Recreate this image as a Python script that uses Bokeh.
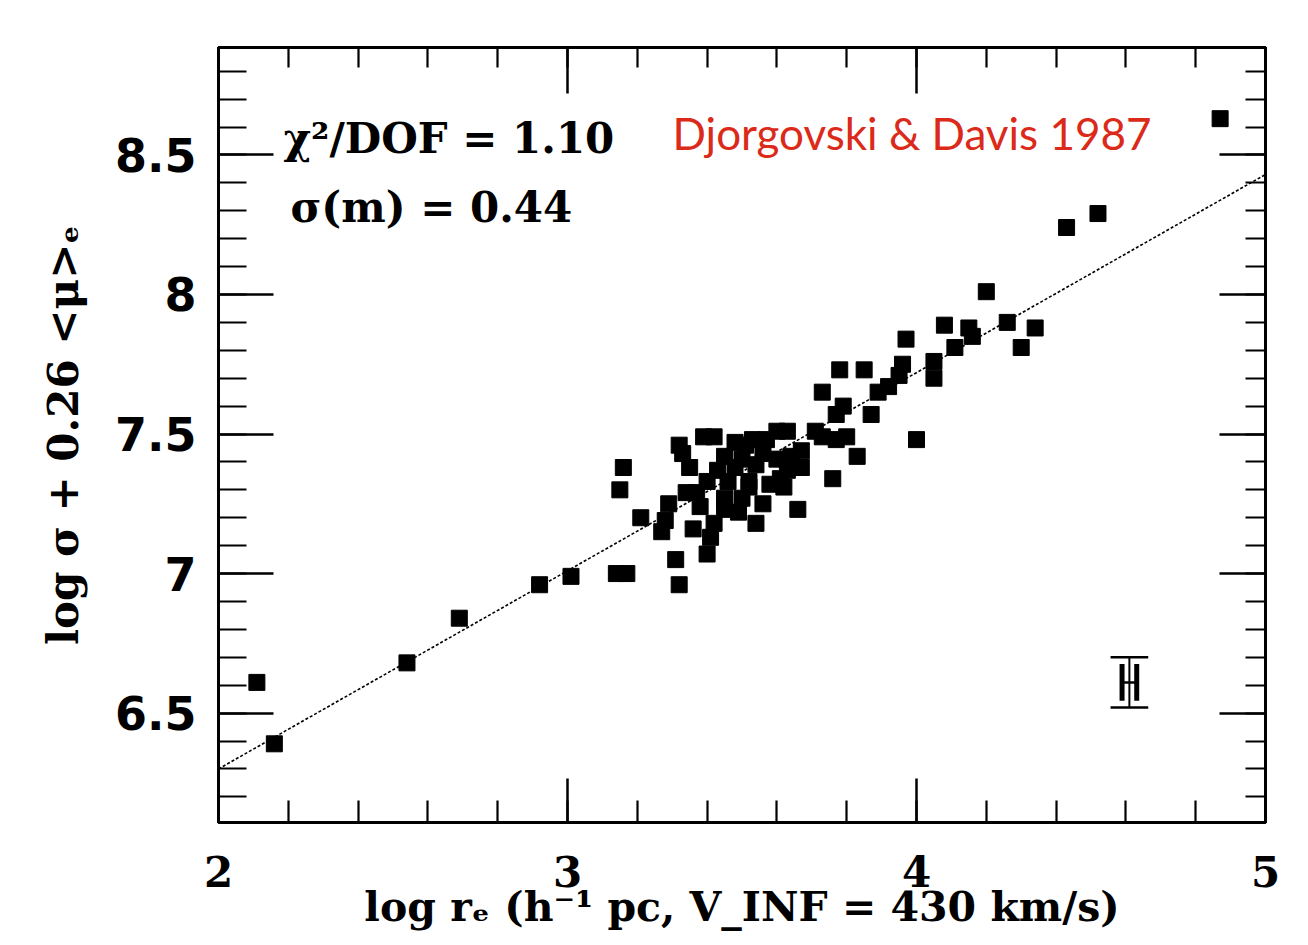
from bokeh.plotting import figure
from bokeh.models import SingleIntervalTicker, LinearAxis, Range1d, Label, CustomJSTickFormatter
from bokeh.embed import file_html
from bokeh.resources import INLINE

# ---- data ----
log_re = [2.11, 2.16, 2.54, 2.69, 2.92, 3.01, 3.14, 3.17, 3.16, 3.15,
          3.21, 3.29, 3.28, 3.27, 3.31, 3.32, 3.36, 3.40, 3.41, 3.42,
          3.54, 3.66, 3.32, 3.39, 3.42, 3.35, 3.45, 3.48, 3.53, 3.40,
          3.37, 3.45, 3.49, 3.52, 3.56, 3.58, 3.62, 3.50, 3.56, 3.64,
          3.67, 3.63, 3.71, 3.67, 3.63, 3.73, 3.52, 3.61, 3.48, 3.57,
          3.43, 3.46, 3.54, 3.60, 3.73, 3.77, 3.79, 3.80, 3.77, 3.83,
          3.76, 3.87, 3.78, 3.85, 3.89, 3.92, 3.95, 3.96, 3.97, 4.00,
          4.05, 4.05, 4.08, 4.11, 4.16, 4.15, 4.20, 4.26, 4.34, 4.30,
          4.43, 4.52, 4.87, 3.51, 3.60, 3.34, 3.45, 3.38, 3.50, 3.33]
log_sigma_mu = [6.61, 6.39, 6.68, 6.84, 6.96, 6.99, 7.00, 7.00, 7.38, 7.30,
                7.20, 7.25, 7.19, 7.15, 7.05, 6.96, 7.16, 7.07, 7.13, 7.18,
                7.18, 7.23, 7.46, 7.49, 7.49, 7.38, 7.42, 7.47, 7.48, 7.33,
                7.29, 7.27, 7.22, 7.33, 7.25, 7.32, 7.31, 7.41, 7.43, 7.42,
                7.38, 7.51, 7.51, 7.44, 7.37, 7.49, 7.31, 7.34, 7.38, 7.48,
                7.37, 7.33, 7.39, 7.41, 7.65, 7.57, 7.60, 7.49, 7.48, 7.42,
                7.34, 7.57, 7.73, 7.73, 7.65, 7.67, 7.71, 7.75, 7.84, 7.48,
                7.76, 7.70, 7.89, 7.81, 7.85, 7.88, 8.01, 7.90, 7.88, 7.81,
                8.24, 8.29, 8.63, 7.46, 7.51, 7.29, 7.23, 7.24, 7.27, 7.43]

fit_x = [2.0, 5.0]
fit_y = [6.30, 8.43]

# typical error bar
errbar_x = 4.61
errbar_y = 6.61
errbar_outer = 0.09
errbar_inner = 0.066

x_major_interval = 1.0
y_major_interval = 0.5

x_label = "log r\u2091 (h\u207b\u00b9 pc, V_INF = 430 km/s)"
y_label = "log \u03c3 + 0.26 <\u03bc>\u2091"
chi_text = "\u03c7\u00b2/DOF = 1.10"
sig_text = "\u03c3(m) = 0.44"
ref_text = "Djorgovski & Davis 1987"

SERIF = "DejaVu Serif"

p = figure(width=1300, height=937,
           x_range=Range1d(2.0, 5.0), y_range=Range1d(6.108, 8.885),
           output_backend="svg", toolbar_location=None,
           min_border_left=218, min_border_right=35,
           min_border_top=47, min_border_bottom=115,
           x_axis_location=None, y_axis_location=None)
p.grid.visible = False
p.outline_line_color = "black"
p.outline_line_width = 3
p.background_fill_color = "white"
p.border_fill_color = "white"

blank = CustomJSTickFormatter(code="return ''")


def style(ax, major_len, minor_len):
    ax.axis_line_width = 3
    ax.axis_line_color = "black"
    ax.major_tick_in = major_len
    ax.major_tick_out = 0
    ax.minor_tick_in = minor_len
    ax.minor_tick_out = 0
    ax.major_tick_line_width = 2.5
    ax.minor_tick_line_width = 2.2
    ax.major_tick_line_color = "black"
    ax.minor_tick_line_color = "black"
    ax.major_label_text_color = "black"
    ax.axis_label_text_color = "black"


xb = LinearAxis(ticker=SingleIntervalTicker(interval=x_major_interval, num_minor_ticks=5))
style(xb, 44, 22)
xb.axis_label = x_label
xb.axis_label_text_font = SERIF
xb.axis_label_text_font_style = "bold"
xb.axis_label_text_font_size = "41px"
xb.axis_label_standoff = -7
xb.major_label_text_font = SERIF
xb.major_label_text_font_style = "bold"
xb.major_label_text_font_size = "42px"
xb.major_label_standoff = 33
p.add_layout(xb, "below")

xt = LinearAxis(ticker=SingleIntervalTicker(interval=x_major_interval, num_minor_ticks=5),
                formatter=blank)
style(xt, 46, 20)
xt.major_label_text_font_size = "1px"
xt.major_label_standoff = 0
p.add_layout(xt, "above")

yl = LinearAxis(ticker=SingleIntervalTicker(interval=y_major_interval, num_minor_ticks=5))
style(yl, 55, 28)
yl.axis_label = y_label
yl.axis_label_text_font = SERIF
yl.axis_label_text_font_style = "bold"
yl.axis_label_text_font_size = "42px"
yl.axis_label_standoff = 24
yl.major_label_text_font = "DejaVu Sans"
yl.major_label_text_font_style = "bold"
yl.major_label_text_font_size = "46px"
yl.major_label_standoff = 22
p.add_layout(yl, "left")

yr = LinearAxis(ticker=SingleIntervalTicker(interval=y_major_interval, num_minor_ticks=5),
                formatter=blank)
style(yr, 46, 20)
yr.major_label_text_font_size = "1px"
yr.major_label_standoff = 0
p.add_layout(yr, "right")

# fit line
p.line(fit_x, fit_y, line_color="black", line_width=1.6, line_dash="3 2")

# data points
p.scatter(log_re, log_sigma_mu, marker="square", size=16,
          fill_color="black", line_color="black")

# typical error bar
p.segment(x0=[errbar_x], y0=[errbar_y - errbar_outer], x1=[errbar_x], y1=[errbar_y + errbar_outer],
          line_color="black", line_width=2)
cap_w = 0.054
p.segment(x0=[errbar_x - cap_w, errbar_x - cap_w], y0=[errbar_y - errbar_outer, errbar_y + errbar_outer],
          x1=[errbar_x + cap_w, errbar_x + cap_w], y1=[errbar_y - errbar_outer, errbar_y + errbar_outer],
          line_color="black", line_width=2.5)
in_w = 0.021
p.segment(x0=[errbar_x - in_w, errbar_x + in_w], y0=[errbar_y - errbar_inner] * 2,
          x1=[errbar_x - in_w, errbar_x + in_w], y1=[errbar_y + errbar_inner] * 2,
          line_color="black", line_width=5)
p.segment(x0=[errbar_x - in_w], y0=[errbar_y], x1=[errbar_x + in_w], y1=[errbar_y],
          line_color="black", line_width=2.5)

# annotations
p.add_layout(Label(x=2.186, y=8.559, text=chi_text, text_font=SERIF, text_font_style="bold",
                   text_font_size="42px", text_color="black", text_baseline="alphabetic"))
p.add_layout(Label(x=2.206, y=8.312, text=sig_text, text_font=SERIF, text_font_style="bold",
                   text_font_size="42px", text_color="black", text_baseline="alphabetic"))
p.add_layout(Label(x=3.301, y=8.577, text=ref_text, text_font="Lato", text_font_size="44px",
                   text_color="#dc2a1a", text_baseline="alphabetic"))

open("out.html", "w").write(file_html(p, INLINE))
